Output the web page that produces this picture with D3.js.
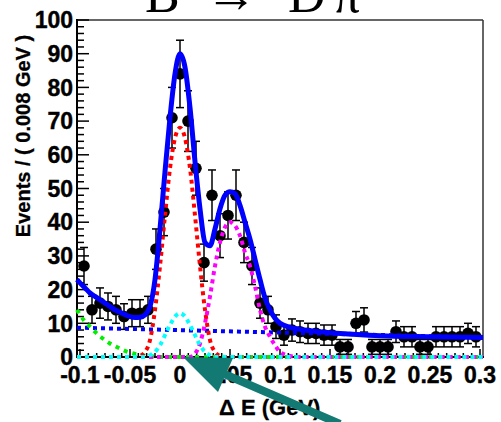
<!DOCTYPE html>
<html><head><meta charset="utf-8">
<script src="https://cdn.jsdelivr.net/npm/d3@7/dist/d3.min.js"></script>
<style>html,body{margin:0;padding:0;background:#fff;}svg{display:block;}</style>
</head><body>
<svg id="c" width="501" height="422"></svg>
<script>
// ---- data ----
const binCenters = [-0.096,-0.088,-0.080,-0.072,-0.064,-0.056,-0.048,-0.040,-0.032,-0.024,-0.016,-0.008,0.000,0.008,0.016,0.024,0.032,0.040,0.048,0.056,0.064,0.072,0.080,0.088,0.096,0.104,0.112,0.120,0.128,0.136,0.144,0.152,0.160,0.168,0.176,0.184,0.192,0.200,0.208,0.216,0.224,0.232,0.240,0.248,0.256,0.264,0.272,0.280,0.288,0.296];
const counts = [27,14,16,15,14,12,13,13,14,32,43,71,84,70,56,28,48,36,42,48,34,27,16,14,9,6.5,8,7.5,7,7,6.5,6.5,3,3,10,11,3,3,3,7.5,6,6,3,3,6,6,6,6,7,6];
const errors = [5.5,4,4.5,4,4,3.8,4,4,4,6,7,9,10,9,8,5.5,7.5,6.5,7,7.5,6,5.5,4.5,4,3.5,3,3.3,3.2,3,3,3,3,2.2,2.2,3.5,3.6,2.2,2.2,2.2,3.2,3,3,2.2,2.2,3,3,3,3,3,3];

const gridX = [-0.103,-0.1,-0.095,-0.09,-0.085,-0.08,-0.075,-0.07,-0.065,-0.06,-0.055,-0.05,-0.045,-0.04,-0.035,-0.03,-0.025,-0.02,-0.015,-0.01,-0.005,0,0.005,0.01,0.015,0.02,0.025,0.03,0.035,0.04,0.045,0.05,0.055,0.06,0.065,0.07,0.075,0.08,0.085,0.09,0.095,0.1,0.11,0.12,0.13,0.14,0.15,0.17,0.2,0.25,0.303];
const fitTotal = [23,22,20.5,19,18,17,16,15,14,13.3,12.6,12,11.7,11.8,12.5,15,23,38,55,71,84,90,86,74,58,44,34,33,38,44,48,49,48.5,45,40,35,29,23,17.5,14,11.5,10,8.8,8.2,7.8,7.5,7.2,6.8,6.3,6,5.8];
const fitSignal = [0,0,0,0,0,0,0,0,0,0,0,0,0,0.3,1.5,5,14,27,42,56,65,68,65,56,42,27,14,5,1.5,0.3,0,0,0,0,0,0,0,0,0,0,0,0,0,0,0,0,0,0,0,0,0];
const fitSecond = [0,0,0,0,0,0,0,0,0,0,0,0,0,0,0,0,0,0,0,0,0,0,0,0,1,4,10,18,27,34,38.5,40,39,36,31,27,21,14,9,6,3.5,1.5,0.3,0,0,0,0,0,0,0,0];
const fitPeaking = [0,0,0,0,0,0,0,0,0,0,0,0,0,0,0,0.5,1.5,3.5,6.5,9.5,12,13,12,9.5,6.5,3.5,1.5,0.5,0,0,0,0,0,0,0,0,0,0,0,0,0,0,0,0,0,0,0,0,0,0,0];
const fitLowTail = [14,12.5,10.5,9,7.5,6.2,5,4,3.2,2.5,1.8,1.3,0.9,0.6,0.4,0.2,0.1,0,0,0,0,0,0,0,0,0,0,0,0,0,0,0,0,0,0,0,0,0,0,0,0,0,0,0,0,0,0,0,0,0,0];
const bkgX = [-0.103,0.303];
const bkgY = [8.7,5.8];

const yTicks = [0,10,20,30,40,50,60,70,80,90,100];
const xTicks = [-0.1,-0.05,0,0.05,0.1,0.15,0.2,0.25,0.3];
const xTickLabels = ["-0.1","-0.05","0","0.05","0.1","0.15","0.2","0.25","0.3"];

// ---- chart ----
const svg = d3.select("#c");
svg.append("rect").attr("width",501).attr("height",422).attr("fill","#fff");

const x = d3.scaleLinear().domain([-0.103,0.303]).range([77,483]);
const y = d3.scaleLinear().domain([0,100]).range([357,20]);
const sans = "'Liberation Sans',Arial,Helvetica,sans-serif";

// title (cut at top)
const tf = "'Liberation Serif','Times New Roman',serif";
const title = svg.append("g").attr("font-family",tf).attr("font-size",52).attr("fill","#000");
title.append("text").attr("x",145).attr("y",12).text("B");
title.append("text").attr("x",205).attr("y",12).text("→");
title.append("text").attr("x",288).attr("y",12).text("D");
title.append("text").attr("x",334).attr("y",12).text("π");

// frame
svg.append("line").attr("x1",77).attr("x2",483).attr("y1",20).attr("y2",20).attr("stroke","#333").attr("stroke-width",1.5);
svg.append("line").attr("x1",483).attr("x2",483).attr("y1",20).attr("y2",357).attr("stroke","#333").attr("stroke-width",1.5);

// y axis
const yMinor = d3.range(0,100.1,2);
const yAxisG = svg.append("g").attr("transform","translate(77,0)");
yAxisG.selectAll("line.minor").data(yMinor).join("line")
  .attr("x1",0).attr("x2",d=>d%10===0?12:7).attr("y1",d=>y(d)).attr("y2",d=>y(d))
  .attr("stroke","#000").attr("stroke-width",1.5);
yAxisG.append("line").attr("x1",0).attr("x2",0).attr("y1",19).attr("y2",358).attr("stroke","#000").attr("stroke-width",2);
yAxisG.selectAll("text").data(yTicks).join("text")
  .attr("x",-4).attr("y",d=>y(d)).attr("dy","0.36em").attr("text-anchor","end")
  .attr("font-family",sans).attr("font-weight","bold").attr("font-size",23)
  .attr("stroke","#000").attr("stroke-width",0.4)
  .text(d=>d);

// x axis
const xMinor = d3.range(-0.1, 0.3001, 0.05/6);
const xAxisG = svg.append("g");
xAxisG.selectAll("line.t").data(xMinor).join("line")
  .attr("x1",d=>x(d)).attr("x2",d=>x(d)).attr("y1",357)
  .attr("y2",(d,i)=>i%6===0?349:353)
  .attr("stroke","#000").attr("stroke-width",1.5);
xAxisG.append("line").attr("x1",76).attr("x2",484).attr("y1",357).attr("y2",357).attr("stroke","#000").attr("stroke-width",2);
xAxisG.selectAll("text").data(xTicks).join("text")
  .attr("x",d=>x(d)).attr("y",383).attr("text-anchor","middle")
  .attr("font-family",sans).attr("font-weight","bold").attr("font-size",23)
  .attr("stroke","#000").attr("stroke-width",0.4)
  .text((d,i)=>xTickLabels[i]);

// axis titles
svg.append("text").attr("transform","translate(30,136) rotate(-90)").attr("text-anchor","middle")
  .attr("font-family",sans).attr("font-weight","bold").attr("font-size",20)
  .attr("stroke","#000").attr("stroke-width",0.3)
  .text("Events / ( 0.008 GeV )");
svg.append("text").attr("x",219).attr("y",415)
  .attr("font-family",sans).attr("font-weight","bold").attr("font-size",22)
  .attr("stroke","#000").attr("stroke-width",0.3)
  .text("Δ E (GeV)");

// data points
const pts = svg.append("g");
binCenters.forEach((c,i)=>{
  const v = counts[i], e = errors[i];
  pts.append("line").attr("x1",x(c)).attr("x2",x(c)).attr("y1",y(v+e)).attr("y2",y(Math.max(0,v-e))).attr("stroke","#000").attr("stroke-width",1.5);
  pts.append("line").attr("x1",x(c)-4).attr("x2",x(c)+4).attr("y1",y(v+e)).attr("y2",y(v+e)).attr("stroke","#000").attr("stroke-width",1.5);
  pts.append("line").attr("x1",x(c)-4).attr("x2",x(c)+4).attr("y1",y(Math.max(0,v-e))).attr("y2",y(Math.max(0,v-e))).attr("stroke","#000").attr("stroke-width",1.5);
  pts.append("circle").attr("cx",x(c)).attr("cy",y(v)).attr("r",5.8).attr("fill","#000");
});

// curves
const line = d3.line().x(d=>x(d[0])).y(d=>y(d[1])).curve(d3.curveMonotoneX);
function curve(xs, ys, color, width, dash){
  svg.append("path").attr("d", line(xs.map((v,i)=>[v,ys[i]])))
    .attr("fill","none").attr("stroke",color).attr("stroke-width",width)
    .attr("stroke-dasharray",dash||null);
}
curve(bkgX, bkgY, "#0000ff", 4, "4,4");
curve(gridX, fitLowTail, "#00ee00", 4, "4,5");
curve(gridX, fitSignal, "#ff0000", 4, "4,4");
curve(gridX, fitSecond, "#ff00ff", 4, "4,4");
curve(gridX, fitPeaking, "#00ffff", 4, "4,4");
curve(gridX, fitTotal, "#0000ff", 5, null);

// teal annotation arrow
const arr = svg.append("g").attr("fill","#127a73").attr("stroke","#127a73");
arr.append("line").attr("x1",340).attr("y1",424).attr("x2",222).attr("y2",373).attr("stroke-width",8);
arr.append("polygon").attr("points",[[183,357],[233,358],[218,392]].map(p=>p.join(",")).join(" ")).attr("stroke","none");
</script>
</body></html>
